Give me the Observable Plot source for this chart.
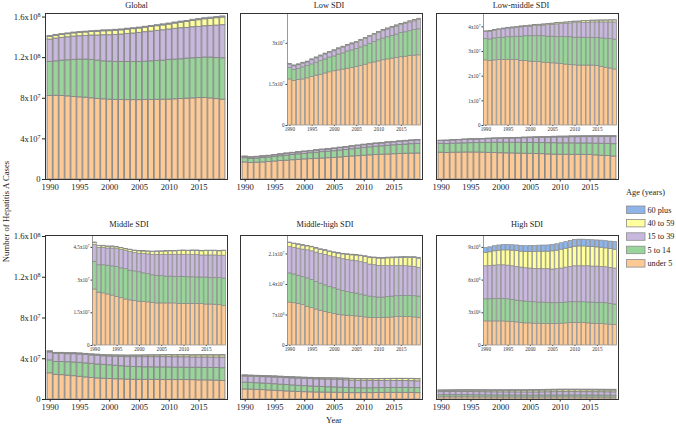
<!DOCTYPE html>
<html><head><meta charset="utf-8">
<script src="https://cdn.jsdelivr.net/npm/d3@7"></script>
<script src="https://cdn.jsdelivr.net/npm/@observablehq/plot@0.6"></script>
<style>
html,body{margin:0;padding:0;background:#fff;}
#chart{position:relative;width:676px;height:425px;overflow:hidden;font-family:"Liberation Serif","DejaVu Serif",serif;background:#fff;}
#chart > svg{position:absolute;}
</style></head><body><div id="chart"></div>
<script>
// ---------------- DATA (values in millions of cases) ----------------
const years = [1990,1991,1992,1993,1994,1995,1996,1997,1998,1999,2000,2001,2002,2003,2004,2005,2006,2007,2008,2009,2010,2011,2012,2013,2014,2015,2016,2017,2018,2019];
const ages = ["under 5","5 to 14","15 to 39","40 to 59","60 plus"];
const ageColors = ["#fdca96","#99d49a","#c8b8de","#ffff9e","#8eb4ea"];
const xTickYears = [1990,1995,2000,2005,2010,2015];
const mainYTicks = [0,4e7,8e7,1.2e8,1.6e8];

const globalUnder5 = [82.2,82.4,82.2,81.9,81.3,80.9,80.6,80.0,79.4,79.0,78.6,78.4,78.3,78.2,78.2,78.2,78.3,78.4,78.5,78.6,78.7,79.0,79.3,79.6,79.9,80.2,80.3,79.9,79.2,78.6];
const global5to14 = [33.6,34.0,34.9,35.5,36.5,37.2,37.5,37.8,37.7,37.4,37.5,37.4,37.5,37.6,37.6,37.6,37.7,38.0,38.3,38.5,39.1,39.1,39.1,39.5,39.5,39.5,39.8,40.2,40.5,40.8];
const global15to39 = [22.0,22.4,22.4,22.7,23.0,23.0,23.3,24.0,24.7,25.7,26.0,26.6,27.0,27.6,28.0,28.6,29.1,29.3,29.6,29.9,29.9,30.3,30.6,30.2,30.6,30.6,30.9,31.2,31.9,32.6];
const global40to59 = [2.7,2.8,2.9,3.0,3.1,3.3,3.4,3.5,3.7,3.9,4.0,4.1,4.1,4.2,4.3,4.3,4.4,4.5,4.6,4.8,4.9,5.2,5.5,5.8,6.2,6.6,6.8,7.0,7.3,7.5];
const global60plus = [0.8,0.8,0.8,0.8,0.8,0.8,0.8,0.8,0.9,0.9,0.9,0.9,0.9,0.9,0.9,0.9,0.9,1.0,1.0,1.0,1.0,1.0,1.0,1.0,1.1,1.1,1.1,1.1,1.1,1.1];

const lowUnder5 = [16.8,16.3,16.6,16.8,17.2,17.7,18.2,18.5,19.0,19.4,19.8,20.1,20.4,20.7,21.0,21.3,21.7,22.2,22.7,23.0,23.4,23.8,24.1,24.4,24.6,24.9,25.1,25.4,25.5,25.6];
const low5to14 = [4.2,3.9,4.0,4.4,4.5,4.6,4.7,5.0,5.1,5.4,5.4,5.8,5.9,6.3,6.4,6.6,6.8,6.9,7.1,7.5,7.7,7.9,8.1,8.3,8.6,8.8,8.9,9.0,9.3,9.5];
const low15to39 = [1.2,1.4,1.4,1.4,1.3,1.5,1.6,1.7,1.8,1.7,1.9,1.9,2.1,2.0,2.2,2.2,2.4,2.5,2.5,2.5,2.7,2.7,2.8,2.8,2.9,2.9,3.1,3.2,3.2,3.4];
const low40to59 = [0.25,0.25,0.25,0.26,0.26,0.27,0.27,0.28,0.28,0.29,0.29,0.30,0.30,0.31,0.31,0.32,0.32,0.33,0.33,0.34,0.34,0.35,0.35,0.36,0.36,0.37,0.37,0.38,0.38,0.39];
const low60plus = [0.04,0.04,0.04,0.04,0.04,0.04,0.04,0.04,0.04,0.04,0.05,0.05,0.05,0.05,0.05,0.05,0.05,0.05,0.05,0.05,0.05,0.05,0.05,0.06,0.06,0.06,0.06,0.06,0.06,0.06];

const lowMidUnder5 = [26.4,26.1,26.4,26.5,26.6,26.6,26.6,26.5,26.2,26.1,25.9,25.8,25.7,25.5,25.4,25.2,25.1,25.0,24.7,24.5,24.4,24.3,24.3,24.3,24.3,24.1,23.8,23.4,23.1,22.7];
const lowMid5to14 = [8.7,8.8,8.9,9.0,9.0,9.2,9.3,9.5,9.8,10.1,10.3,10.4,10.5,10.7,10.6,10.8,10.8,10.9,11.1,11.3,11.2,11.3,11.3,11.2,11.2,11.4,11.5,11.8,12.0,12.1];
const lowMid15to39 = [2.8,3.1,3.1,3.2,3.4,3.5,3.5,3.6,3.8,3.8,3.9,4.1,4.2,4.3,4.7,4.8,5.1,5.2,5.4,5.6,5.9,5.9,6.1,6.2,6.3,6.3,6.5,6.6,6.7,7.0];
const lowMid40to59 = [0.20,0.21,0.22,0.23,0.24,0.25,0.27,0.28,0.30,0.32,0.34,0.36,0.38,0.40,0.42,0.44,0.47,0.49,0.51,0.54,0.56,0.59,0.61,0.64,0.66,0.69,0.71,0.74,0.77,0.80];
const lowMid60plus = [0.05,0.05,0.05,0.05,0.05,0.06,0.06,0.06,0.06,0.06,0.06,0.07,0.07,0.07,0.07,0.07,0.08,0.08,0.08,0.08,0.08,0.09,0.09,0.09,0.09,0.09,0.10,0.10,0.10,0.10];

const midUnder5 = [25.7,24.2,23.9,23.4,22.9,22.3,21.7,21.1,20.7,20.4,20.1,19.9,19.8,19.5,19.3,19.3,19.3,19.3,19.3,19.1,19.1,19.1,19.1,19.1,19.0,18.8,18.8,18.7,18.5,18.2];
const mid5to14 = [12.7,12.6,12.9,13.2,13.4,13.7,13.7,13.9,13.6,13.6,13.5,13.2,12.9,12.7,12.6,12.5,12.3,12.3,12.2,12.4,12.4,12.2,12.2,12.1,12.2,12.4,12.2,12.3,12.4,12.5];
const mid15to39 = [7.8,8.0,8.1,7.9,8.2,8.2,8.4,8.3,8.6,8.4,8.5,8.8,9.1,9.4,9.7,9.8,10.0,10.0,10.1,10.1,10.1,10.2,10.2,10.3,10.1,10.1,10.3,10.3,10.3,10.5];
const mid40to59 = [0.9,0.8,0.7,0.8,0.8,0.8,0.8,0.8,0.9,1.0,1.1,1.2,1.2,1.3,1.4,1.4,1.5,1.6,1.6,1.7,1.8,1.8,1.9,1.9,1.9,2.0,2.0,2.0,2.0,2.1];
const mid60plus = [0.15,0.15,0.15,0.16,0.16,0.16,0.17,0.17,0.17,0.18,0.18,0.18,0.19,0.19,0.19,0.20,0.20,0.20,0.21,0.21,0.21,0.22,0.22,0.22,0.23,0.23,0.23,0.24,0.24,0.25];

const midHighUnder5 = [9.86,9.70,9.48,9.25,8.87,8.57,8.26,7.96,7.66,7.43,7.20,7.05,6.90,6.82,6.75,6.67,6.60,6.44,6.29,6.29,6.29,6.29,6.37,6.44,6.52,6.52,6.52,6.52,6.44,6.29];
const midHigh5to14 = [6.67,6.60,6.52,6.44,6.52,6.44,6.30,6.22,6.14,5.99,5.92,5.76,5.61,5.46,5.30,5.23,5.08,5.01,4.93,4.78,4.70,4.70,4.77,4.78,4.78,4.85,4.85,4.85,4.86,4.93];
const midHigh15to39 = [6.06,6.07,6.21,6.30,6.44,6.60,6.74,6.82,6.97,7.05,7.12,7.21,7.28,7.36,7.43,7.43,7.43,7.43,7.35,7.35,7.28,7.21,7.06,6.98,6.90,6.83,6.83,6.75,6.74,6.60];
const midHigh40to59 = [0.91,0.90,0.90,0.90,0.90,0.91,0.92,0.94,0.96,0.98,1.00,1.05,1.10,1.15,1.20,1.30,1.37,1.45,1.52,1.60,1.67,1.72,1.78,1.82,1.85,1.90,1.93,1.98,2.03,2.10];
const midHigh60plus = [0.12,0.12,0.12,0.13,0.13,0.13,0.13,0.14,0.14,0.14,0.14,0.15,0.15,0.15,0.15,0.16,0.16,0.16,0.17,0.17,0.17,0.17,0.18,0.18,0.18,0.19,0.19,0.19,0.20,0.20];

const highUnder5 = [2.21,2.21,2.21,2.21,2.21,2.18,2.15,2.12,2.06,2.03,2.03,2.00,2.00,1.97,1.97,1.97,1.97,2.00,2.03,2.06,2.06,2.06,2.06,2.03,2.00,1.97,1.97,1.94,1.91,1.88];
const high5to14 = [2.03,2.03,2.06,2.06,2.06,2.06,2.03,2.00,2.00,2.00,1.97,1.97,1.94,1.97,1.94,1.91,1.91,1.91,1.91,1.91,1.91,1.91,1.91,1.91,1.94,1.94,1.94,1.94,1.91,1.88];
const high15to39 = [3.03,3.06,3.06,3.09,3.09,3.09,3.09,3.09,3.09,3.06,3.06,3.06,3.09,3.06,3.09,3.09,3.12,3.15,3.21,3.24,3.30,3.30,3.30,3.33,3.30,3.33,3.30,3.30,3.30,3.30];
const high40to59 = [1.21,1.25,1.31,1.34,1.37,1.40,1.43,1.46,1.46,1.49,1.52,1.55,1.58,1.61,1.61,1.67,1.70,1.73,1.73,1.76,1.79,1.82,1.82,1.79,1.79,1.76,1.76,1.73,1.73,1.73];
const high60plus = [0.46,0.46,0.47,0.48,0.48,0.49,0.50,0.51,0.52,0.53,0.54,0.55,0.55,0.56,0.57,0.58,0.59,0.59,0.60,0.61,0.62,0.62,0.62,0.62,0.63,0.64,0.65,0.66,0.68,0.70];

const UNIT = 1e6;

const panels = [
  {name:"Global", col:0, row:0, series:[globalUnder5,global5to14,global15to39,global40to59,global60plus], inset:null, titleX:136.5},
  {name:"Low SDI", col:1, row:0, series:[lowUnder5,low5to14,low15to39,low40to59,low60plus], inset:{max:4.05e7, ticks:[0,1.5e7,3e7]}, titleX:329},
  {name:"Low-middle SDI", col:2, row:0, series:[lowMidUnder5,lowMid5to14,lowMid15to39,lowMid40to59,lowMid60plus], inset:{max:4.5e7, ticks:[0,1e7,2e7,3e7,4e7]}, titleX:521},
  {name:"Middle SDI", col:0, row:1, series:[midUnder5,mid5to14,mid15to39,mid40to59,mid60plus], inset:{max:5.0e7, ticks:[0,1.5e7,3e7,4.5e7]}, titleX:129},
  {name:"Middle-high SDI", col:1, row:1, series:[midHighUnder5,midHigh5to14,midHigh15to39,midHigh40to59,midHigh60plus], inset:{max:2.5e7, ticks:[0,7e6,1.4e7,2.1e7]}, titleX:325},
  {name:"High SDI", col:2, row:1, series:[highUnder5,high5to14,high15to39,high40to59,high60plus], inset:{max:1.0e7, ticks:[0,3e6,6e6,9e6]}, titleX:527}
];

// ---------------- LAYOUT ----------------
const colLeft = [45, 240, 436];
const rowTop = [13, 235];
const rowH = [166, 164];
const rowMax = [1.635e8, 1.61e8];
const W = 182;
const FONT = '"Liberation Serif","DejaVu Serif",serif';
const chart = document.getElementById("chart");

function sci(v){
  if (v === 0) return "0";
  const e = Math.floor(Math.log10(v) + 1e-9);
  const m = +(v / Math.pow(10, e)).toFixed(2);
  return `${m}x10^${e}`;
}
function supify(svg){
  svg.querySelectorAll("text").forEach(t => {
    const m = t.textContent.match(/^(.*)\^(\d+)$/);
    if (m) {
      t.textContent = m[1];
      const ts = document.createElementNS("http://www.w3.org/2000/svg","tspan");
      ts.setAttribute("dy","-0.45em");
      ts.setAttribute("font-size","0.7em");
      ts.textContent = m[2];
      t.appendChild(ts);
    }
  });
}
function rowsOf(p){
  const rows = [];
  p.series.forEach((arr, i) => arr.forEach((v, j) => rows.push({year: years[j], age: ages[i], value: v * UNIT})));
  return rows;
}
function place(svg, left, top){
  svg.style.position = "absolute";
  svg.style.left = left + "px";
  svg.style.top = top + "px";
  svg.style.maxWidth = "none";
  chart.appendChild(svg);
}

panels.forEach(p => {
  const rows = rowsOf(p);
  const H = rowH[p.row];
  const mL = p.col === 0 ? 46 : 2, mR = 2, mT = 2, mB = 16;
  const svg = Plot.plot({
    width: W + mL + mR, height: H + mT + mB,
    marginLeft: mL, marginRight: mR, marginTop: mT, marginBottom: mB,
    style: {background: "transparent", fontFamily: FONT, fontSize: "8.6px", color: "#222", overflow: "visible"},
    x: {type: "band", domain: years, round: false, paddingInner: 0.12, paddingOuter: 0.35, ticks: xTickYears, tickFormat: d => `${d}`, tickSize: 2.5, tickPadding: 1.5, label: null},
    y: {domain: [0, rowMax[p.row]], ticks: mainYTicks, tickFormat: sci, tickSize: 3, tickPadding: 2, label: null, axis: p.col === 0 ? "left" : null},
    color: {domain: ages, range: ageColors},
    marks: [
      Plot.barY(rows, Plot.stackY({x: "year", y: "value", z: "age", fill: "age", order: ages, stroke: "#888", strokeWidth: 0.95})),
      Plot.frame({stroke: "#333", strokeWidth: 1})
    ]
  });
  supify(svg);
  place(svg, colLeft[p.col] - mL, rowTop[p.row] - mT);

  if (p.inset) {
    const iL = colLeft[p.col] + 47, iR = colLeft[p.col] + W - 1;
    const iT = rowTop[p.row] + 1, iB = rowTop[p.row] + H - 54;
    const m2L = 30, m2R = 1, m2T = 1, m2B = 9;
    const isvg = Plot.plot({
      width: iR - iL + m2L + m2R, height: iB - iT + m2T + m2B,
      marginLeft: m2L, marginRight: m2R, marginTop: m2T, marginBottom: m2B,
      style: {background: "transparent", fontFamily: FONT, fontSize: "5.2px", color: "#333", overflow: "visible"},
      x: {type: "band", domain: years, round: false, paddingInner: 0.15, paddingOuter: 0.1, ticks: xTickYears, tickFormat: d => `${d}`, tickSize: 1, tickPadding: 1, label: null},
      y: {domain: [0, p.inset.max], ticks: p.inset.ticks, tickFormat: sci, tickSize: 1.5, tickPadding: 1.5, line: true, label: null},
      color: {domain: ages, range: ageColors},
      marks: [
        Plot.barY(rows, Plot.stackY({x: "year", y: "value", z: "age", fill: "age", order: ages, stroke: "#888", strokeWidth: 0.7}))
      ]
    });
    supify(isvg);
    // soften the inset's axis line (grey, as in the reference)
    isvg.querySelectorAll('path.domain, [aria-label="frame"], [aria-label="frame"] *, [aria-label="y-axis line"], [aria-label="y-axis line"] *').forEach(el => {
      el.setAttribute("stroke", "#999");
      el.style.stroke = "#999";
    });
    place(isvg, iL - m2L, iT - m2T);
  }
});

// ---------------- TEXT OVERLAY: titles, axis titles, legend ----------------
const ov = d3.create("svg").attr("width", 676).attr("height", 425)
  .style("font-family", FONT).style("pointer-events", "none");
panels.forEach(p => {
  ov.append("text").attr("x", p.titleX).attr("y", p.row === 0 ? 7.5 : 226.5)
    .attr("text-anchor", "middle").attr("font-size", 8.3).attr("fill", "#222").text(p.name);
});
ov.append("text").attr("transform", "translate(9,211.5) rotate(-90)")
  .attr("text-anchor", "middle").attr("font-size", 8.7).attr("fill", "#222").text("Number of Hepatitis A Cases");
ov.append("text").attr("x", 334).attr("y", 423)
  .attr("text-anchor", "middle").attr("font-size", 8.6).attr("fill", "#222").text("Year");
ov.append("text").attr("x", 626).attr("y", 195).attr("font-size", 8.3).attr("fill", "#222").text("Age (years)");
const legendOrder = ages.slice().reverse();
legendOrder.forEach((a, i) => {
  const y0 = 206 + i * 13.4;
  ov.append("rect").attr("x", 626.5).attr("y", y0).attr("width", 18.5).attr("height", 7.5)
    .attr("fill", ageColors[ages.indexOf(a)]).attr("stroke", "#8c8c8c").attr("stroke-width", 0.8);
  ov.append("text").attr("x", 647.5).attr("y", y0 + 3.75).attr("dy", "0.35em")
    .attr("font-size", 8.2).attr("fill", "#222").text(a);
});
place(ov.node(), 0, 0);
</script></body></html>
